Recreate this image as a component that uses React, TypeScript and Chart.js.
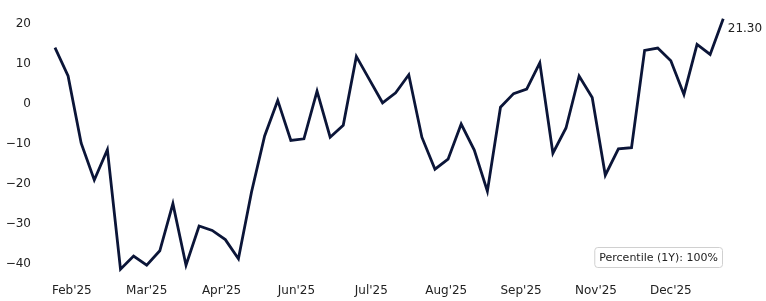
import React, { useEffect, useRef } from "react";
import { Chart, registerables } from "chart.js";

Chart.register(...registerables);

// weekly observations, first point = 24 Jan 2025 (day 0)
const values: number[] = [
  14.1, 7.0, -9.8, -19.0, -11.4, -41.3, -38.0, -40.3, -36.7, -24.9,
  -40.3, -30.5, -31.6, -33.9, -38.7, -22.0, -8.0, 0.9, -9.1, -8.7,
  3.2, -8.3, -5.3, 11.9, 6.1, 0.3, 2.8, 7.3, -8.3, -16.3,
  -13.8, -5.0, -11.5, -21.8, -0.8, 2.6, 3.7, 10.3, -12.3, -6.0,
  7.0, 1.6, -17.8, -11.2, -10.9, 13.4, 14.0, 10.8, 2.4, 14.9,
  12.4, 21.3,
];
const dayOffsets: number[] = values.map((_, i) => i * 7);

const xTickDays: number[] = [9, 49, 89, 129, 169, 209, 249, 289, 329];
const xTickLabels: string[] = [
  "Feb'25", "Mar'25", "Apr'25", "Jun'25", "Jul'25", "Aug'25", "Sep'25", "Nov'25", "Dec'25",
];
const yTicks: number[] = [-40, -30, -20, -10, 0, 10, 20];

const lastLabel = "21.30";
const percentileText = "Percentile (1Y): 100%";

const LINE = "#0b1538";
const TEXT = "#222222";
const FONT = "DejaVu Sans";

export default function App() {
  const ref = useRef<HTMLCanvasElement | null>(null);

  useEffect(() => {
    document.body.style.margin = "0";
    const canvas = ref.current!;
    const overlay = {
      id: "overlay",
      afterDraw(chart: any) {
        const ctx = chart.ctx;
        const xs = chart.scales.x;
        const ys = chart.scales.y;
        const n = values.length - 1;
        const px = xs.getPixelForValue(dayOffsets[n]);
        const py = ys.getPixelForValue(values[n]);
        ctx.save();
        ctx.fillStyle = TEXT;
        ctx.font = `12px "${FONT}"`;
        ctx.textAlign = "left";
        ctx.textBaseline = "middle";
        ctx.fillText(lastLabel, px + 4.5, py + 10);

        // percentile box
        ctx.font = `11px "${FONT}"`;
        const w = ctx.measureText(percentileText).width + 9;
        const h = 20;
        const ca = chart.chartArea;
        const right = ca.right - 34;
        const bottom = ca.bottom - 10;
        const left = right - w;
        const top = bottom - h;
        ctx.beginPath();
        ctx.roundRect(left + 0.5, top + 0.5, w, h, 3);
        ctx.fillStyle = "#ffffff";
        ctx.fill();
        ctx.strokeStyle = "#d0d0d0";
        ctx.lineWidth = 1;
        ctx.stroke();
        ctx.fillStyle = TEXT;
        ctx.textAlign = "center";
        ctx.textBaseline = "middle";
        ctx.fillText(percentileText, left + w / 2 + 0.5, top + h / 2 + 1);
        ctx.restore();
      },
    };

    const chart = new Chart(canvas, {
      type: "line",
      data: {
        datasets: [
          {
            data: values.map((v, i) => ({ x: dayOffsets[i], y: v })),
            borderColor: LINE,
            borderWidth: 2.8,
            pointRadius: 0,
            tension: 0,
            fill: false,
          },
        ],
      },
      options: {
        animation: false,
        responsive: false,
        maintainAspectRatio: false,
        layout: { padding: { top: 12, right: 10, bottom: 0, left: 0 } },
        plugins: { legend: { display: false }, tooltip: { enabled: false } },
        scales: {
          x: {
            type: "linear",
            min: -8,
            max: 374.5,
            grid: { display: false, drawTicks: false },
            border: { display: false },
            afterFit: (s: any) => {
              s.height = 24;
              s.paddingLeft = 0;
              s.paddingRight = 0;
            },
            afterBuildTicks: (s: any) => {
              s.ticks = xTickDays.map((v) => ({ value: v }));
            },
            ticks: {
              autoSkip: false,
              maxRotation: 0,
              padding: 7,
              color: TEXT,
              font: { family: FONT, size: 12 },
              callback: (_v: any, i: number) => xTickLabels[i],
            },
          },
          y: {
            type: "linear",
            min: -43.25,
            max: 23,
            grid: { display: false, drawTicks: false },
            border: { display: false },
            afterFit: (s: any) => {
              s.width = 40;
              s.paddingTop = 0;
              s.paddingBottom = 0;
            },
            afterBuildTicks: (s: any) => {
              s.ticks = yTicks.map((v) => ({ value: v }));
            },
            ticks: {
              padding: 9,
              color: TEXT,
              font: { family: FONT, size: 12 },
              callback: (v: any) => (v < 0 ? "\u2212" + Math.abs(v) : String(v)),
            },
          },
        },
      },
      plugins: [overlay],
    });
    return () => chart.destroy();
  }, []);

  return (
    <div style={{ position: "absolute", left: 0, top: 0, width: 766, height: 301 }}>
      <canvas ref={ref} width={766} height={301} style={{ display: "block" }} />
    </div>
  );
}
